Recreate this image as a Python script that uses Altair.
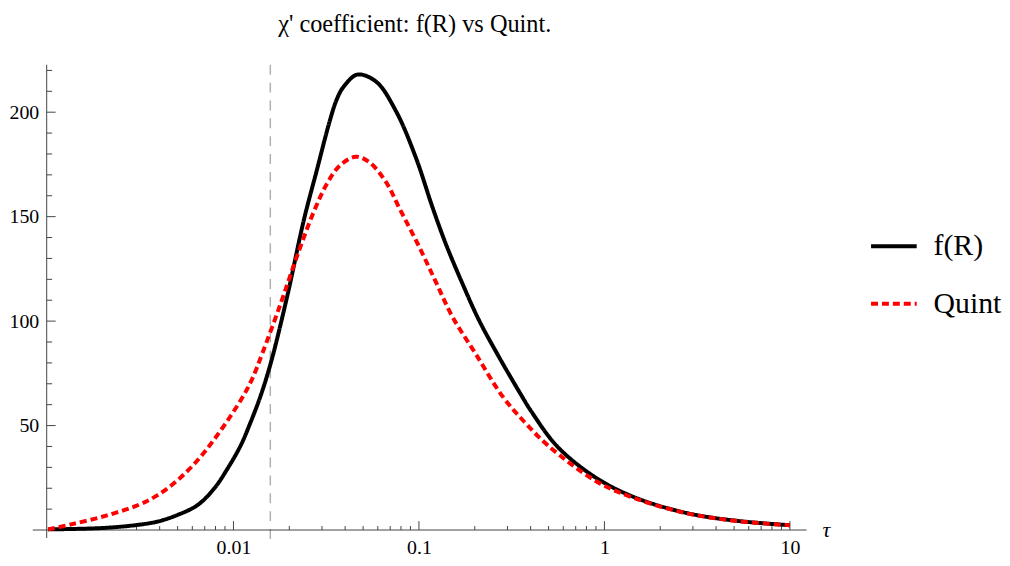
import altair as alt
import pandas as pd

# ---- data ----
tau_fr = [0.001, 0.002, 0.00307, 0.00392, 0.00502, 0.00642, 0.00789, 0.00929, 0.01094, 0.01237,
          0.0140, 0.0159, 0.0195, 0.0239, 0.0281, 0.0331, 0.0360, 0.0391, 0.0466,
          0.0588, 0.0753, 0.0963, 0.1183, 0.1394, 0.1713, 0.2101, 0.2687, 0.351, 0.406,
          0.561, 0.912, 1.50, 2.79, 5.18, 10.0]
val_fr = [0.3, 1.0, 2.5, 4.1, 7.3, 12.0, 20.0, 29.4, 40.5, 51.6,
          64.2, 80.0, 112.0, 148.0, 172.0, 196.0, 206.0, 212.0, 218.0,
          214.6, 200.4, 178.2, 154.5, 137.1, 118.1, 100.7, 83.2, 65.5, 56.4,
          39.7, 24.7, 15.2, 8.1, 4.4, 2.3]

tau_q = [0.001, 0.00135, 0.00204, 0.00307, 0.00392, 0.00502, 0.00642, 0.00789, 0.00967, 0.01141,
         0.01264, 0.0143, 0.0179, 0.0220, 0.0270, 0.0318, 0.0375, 0.0456, 0.0541, 0.0665,
         0.0785, 0.1004, 0.1231, 0.1513, 0.2017, 0.2811, 0.3716, 0.4959, 0.912, 1.50,
         2.79, 5.18, 10.0]
val_q = [0.3, 2.8, 6.8, 12.0, 16.8, 24.0, 33.5, 43.5, 54.7, 64.8,
         72.5, 84.5, 108.0, 131.0, 152.0, 165.5, 174.5, 178.7, 176.0, 166.5,
         154.0, 135.5, 118.9, 102.2, 84.5, 64.2, 51.6, 40.5, 23.1, 14.8,
         8.0, 4.3, 2.3]

series_names = ["f(R)", "Quint"]
series_colors = ["#000000", "#ff0000"]
series_dashes = [[1, 0], [7, 4]]

x_major = [0.01, 0.1, 1, 10]
x_minor = [m * d for d in [0.001, 0.01, 0.1, 1] for m in range(2, 10)]
y_major = [50, 100, 150, 200]
y_minor = [v for v in range(10, 230, 10) if v % 50 != 0]
marker_tau = [0.0158]
title_text = ["χ' coefficient: f(R) vs Quint."]

X_DOMAIN = [0.000984, 12.3]
Y_DOMAIN = [0, 222.7]
W, H = 766, 469

df = pd.concat([
    pd.DataFrame({"tau": tau_fr, "val": val_fr, "series": "f(R)"}),
    pd.DataFrame({"tau": tau_q, "val": val_q, "series": "Quint"}),
])

xs = alt.Scale(type="log", domain=X_DOMAIN, nice=False)
ys = alt.Scale(domain=Y_DOMAIN, nice=False, zero=False)
FONT = "Liberation Serif"
AX = "#444444"

base_x_axis = alt.Axis(values=x_major, labelExpr="'' + datum.value", domain=False, ticks=False,
                       grid=False, labelFont=FONT, labelFontSize=20, labelColor="#000",
                       labelPadding=8, title=None)
base_y_axis = alt.Axis(values=y_major, domain=False, ticks=False, grid=False,
                       labelFont=FONT, labelFontSize=20, labelColor="#000",
                       labelPadding=8, title=None)

lines = alt.Chart(df).mark_line(strokeWidth=4, interpolate="catmull-rom").encode(
    x=alt.X("tau:Q", scale=xs, axis=base_x_axis),
    y=alt.Y("val:Q", scale=ys, axis=base_y_axis),
    color=alt.Color("series:N", scale=alt.Scale(domain=series_names, range=series_colors),
                    legend=alt.Legend(orient="none", legendX=829, legendY=158, title=None,
                                      symbolType="stroke", symbolSize=2116, symbolStrokeWidth=4,
                                      labelFont=FONT, labelFontSize=30, labelColor="#000",
                                      labelOffset=15, rowPadding=18)),
    strokeDash=alt.StrokeDash("series:N", scale=alt.Scale(domain=series_names, range=series_dashes)),
)

marker = alt.Chart(pd.DataFrame({"tau": marker_tau})).mark_rule(
    color="#b0b0b0", strokeWidth=1.5, strokeDash=[10, 8]).encode(
    x=alt.X("tau:Q", scale=xs), y=alt.value(0), y2=alt.value(H + 9))

x_axis_line = alt.Chart(pd.DataFrame({"v": [0]})).mark_rule(color=AX, strokeWidth=1).encode(
    y=alt.Y("v:Q", scale=ys), x=alt.value(-14), x2=alt.value(W))
y_axis_line = alt.Chart(pd.DataFrame({"v": [X_DOMAIN[0]]})).mark_rule(color=AX, strokeWidth=1).encode(
    x=alt.X("v:Q", scale=xs), y=alt.value(0), y2=alt.value(H + 8))

xmaj = alt.Chart(pd.DataFrame({"t": x_major})).mark_rule(color=AX, strokeWidth=1).encode(
    x=alt.X("t:Q", scale=xs), y=alt.value(H), y2=alt.value(H - 9))
xmin = alt.Chart(pd.DataFrame({"t": x_minor})).mark_rule(color=AX, strokeWidth=1).encode(
    x=alt.X("t:Q", scale=xs), y=alt.value(H), y2=alt.value(H - 4))
ymaj = alt.Chart(pd.DataFrame({"v": y_major})).mark_rule(color=AX, strokeWidth=1).encode(
    y=alt.Y("v:Q", scale=ys), x=alt.value(0), x2=alt.value(9))
ymin = alt.Chart(pd.DataFrame({"v": y_minor})).mark_rule(color=AX, strokeWidth=1).encode(
    y=alt.Y("v:Q", scale=ys), x=alt.value(0), x2=alt.value(5.5))

tau_label = alt.Chart(pd.DataFrame({"t": ["τ"]})).mark_text(
    font=FONT, fontSize=22, fontStyle="italic", align="left", baseline="middle", color="#000").encode(
    text="t:N", x=alt.value(W + 16), y=alt.value(H))

title = alt.Chart(pd.DataFrame({"t": title_text})).mark_text(
    font=FONT, fontSize=24.5, align="center", baseline="alphabetic", color="#000").encode(
    text="t:N", x=alt.value(371), y=alt.value(-33))

chart = alt.layer(marker, x_axis_line, y_axis_line, xmaj, xmin, ymaj, ymin, lines,
                  tau_label, title).properties(
    width=W, height=H,
    autosize=alt.AutoSizeParams(type="none"),
    padding={"left": 39, "top": 55, "right": 197, "bottom": 30},
).configure_view(stroke=None)

chart.save("out.html", embed_options={"renderer": "svg", "actions": False})
